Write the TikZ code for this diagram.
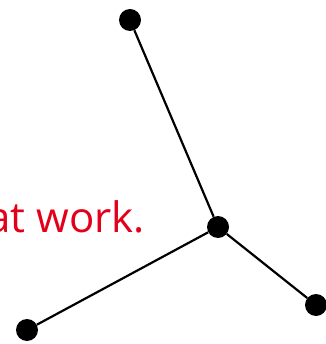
\documentclass[tikz,border=0pt]{standalone}
\usepackage{fontspec}
\setmainfont{Open Sans}
\definecolor{brandred}{HTML}{E2001A}
\begin{document}
\begin{tikzpicture}[x=1pt,y=-1pt,
  dot/.style={circle,fill=black,inner sep=0pt,minimum size=22pt},
  link/.style={line width=2.2pt,black}]
\useasboundingbox (0,0) rectangle (325,344);
\node[anchor=base east,text=brandred,font=\fontsize{42}{46}\selectfont,inner sep=0pt] (txt) at (145,232) {at work.};
\node[dot] (top) at (130,20) {};
\node[dot] (hub) at (218,227) {};
\node[dot] (br) at (316,305) {};
\node[dot] (bl) at (27,330) {};
\draw[link] (top) -- (hub);
\draw[link] (hub) -- (br);
\draw[link] (hub) -- (bl);
\end{tikzpicture}
\end{document}
